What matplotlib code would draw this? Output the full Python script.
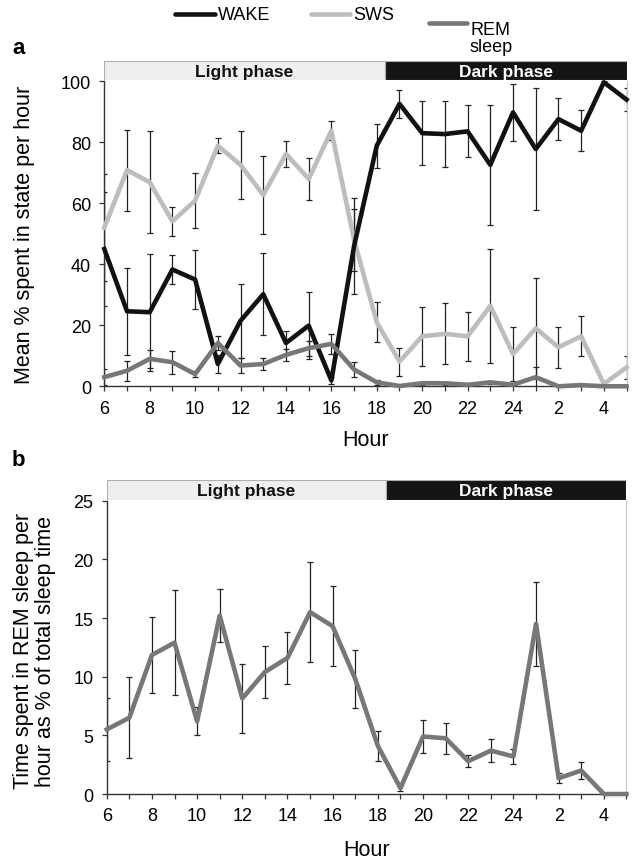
import numpy as np
import matplotlib
matplotlib.use("Agg")
import matplotlib.pyplot as plt
from matplotlib.lines import Line2D

plt.rcParams['font.family'] = ['Liberation Sans', 'DejaVu Sans']

# hours 6..29 (25 = 1 am next day, etc.)
hours = list(range(6, 30))
tick_hours = list(range(6, 30, 2))
tick_labels = ['6', '8', '10', '12', '14', '16', '18', '20', '22', '24', '2', '4']

# panel a: mean % spent in state per hour
wake = [45, 24.6, 24.3, 38.3, 35, 7.3, 21.5, 30.2, 14.2, 19.9, 1.9, 46,
        78.9, 92.6, 83, 82.7, 83.6, 72.6, 89.8, 77.8, 87.6, 83.8, 99.7, 94]
wake_err = [18.6, 14.2, 19.2, 4.7, 9.8, 3, 12.2, 13.5, 3.8, 11, 1, 15.7,
            7.2, 4.6, 10.6, 10.8, 8.5, 19.6, 9.4, 20, 7, 6.8, 0.5, 3.7]
sws = [52, 70.9, 66.9, 54.1, 60.9, 78.9, 72.6, 62.7, 76.2, 68, 83.8, 48,
       21, 8.1, 16.4, 17.2, 16.4, 26.4, 10.6, 19, 12.8, 16.4, 0.8, 6.2]
sws_err = [17.6, 13.3, 16.7, 4.8, 9, 2.5, 11.2, 12.7, 4.2, 7, 3.2, 10.2,
           6.5, 4.6, 9.7, 10, 8, 18.6, 9, 16.5, 6.7, 6.6, 0.5, 3.7]
rem = [3, 5.1, 9, 7.9, 4, 14.2, 6.8, 7.3, 10.3, 12.5, 13.9, 5.5,
       1.3, 0.1, 1, 1, 0.5, 1.3, 0.5, 3, 0, 0.4, 0, 0]
rem_err = [2.7, 3.3, 3, 3.8, 1, 2.2, 2.5, 2, 2, 2.5, 3.3, 2.5,
           0.8, 0.3, 0.5, 0.5, 0.3, 0.6, 0.3, 3.2, 0.2, 0.3, 0, 0]

# panel b: REM sleep as % of total sleep time
rem_pct = [5.5, 6.5, 11.85, 12.9, 6.2, 15.2, 8.15, 10.4, 11.6, 15.5, 14.3, 9.8,
           4.1, 0.5, 4.9, 4.75, 2.8, 3.7, 3.2, 14.5, 1.35, 2.0, 0, 0]
rem_pct_err = [2.7, 3.45, 3.2, 4.5, 1.2, 2.25, 2.95, 2.2, 2.2, 4.25, 3.4, 2.5,
               1.3, 0.2, 1.4, 1.3, 0.5, 0.95, 0.6, 3.55, 0.4, 0.7, 0, 0]

# light / dark bands
phase_names = ['Light phase', 'Dark phase']
phase_start = [6, 18.35]
phase_end = [18.35, 29]
phase_face = ['#efefef', '#141414']
phase_text = ['#111111', 'white']

c_wake = '#111111'
c_sws = '#bdbdbd'
c_rem = '#777777'
c_err = '#222222'
LW = 3.3
TICK_FS = 13
LABEL_FS = 15.5

fig = plt.figure(figsize=(6.33, 8.62), dpi=100)


def style_axes(ax, ymax, ystep):
    ax.set_xlim(6, 29)
    ax.set_ylim(0, ymax)
    ax.set_yticks(np.arange(0, ymax + 0.1, ystep))
    ax.set_xticks(hours, minor=True)
    ax.set_xticks(tick_hours)
    ax.set_xticklabels(tick_labels)
    ax.spines['top'].set_visible(False)
    ax.spines['right'].set_color('#c8c8c8')
    ax.spines['right'].set_linewidth(0.9)
    for s in ['left', 'bottom']:
        ax.spines[s].set_color('#333333')
        ax.spines[s].set_linewidth(1.0)
    ax.tick_params(axis='x', which='both', direction='out', length=3.6, width=0.9,
                   color='#333333', labelsize=TICK_FS, pad=6)
    ax.tick_params(axis='y', direction='out', length=3.6,
                   width=0.9, color='#333333', labelsize=TICK_FS, pad=6)


def phase_band(rect):
    band = fig.add_axes(rect)
    band.set_xlim(6, 29)
    band.set_ylim(0, 1)
    band.axis('off')
    for name, x0, x1, fc, tc in zip(phase_names, phase_start, phase_end, phase_face, phase_text):
        band.barh(0.5, x1 - x0, left=x0, height=1, color=fc, edgecolor='#b0b0b0', linewidth=0.8)
        band.text((x0 + x1) / 2, 0.45, name, ha='center', va='center', color=tc,
                  fontsize=12.5, fontweight='bold')


# ---- panel a ----
ax1 = fig.add_axes([0.1648, 0.5507, 0.825, 0.3538])
for y, e in [(wake, wake_err), (sws, sws_err), (rem, rem_err)]:
    ax1.errorbar(hours, y, yerr=e, fmt='none', ecolor=c_err, elinewidth=0.9,
                 capsize=2.4, capthick=0.9, zorder=2)
ax1.plot(hours, sws, color=c_sws, lw=LW, zorder=3, clip_on=False)
ax1.plot(hours, wake, color=c_wake, lw=LW, zorder=4, clip_on=False)
ax1.plot(hours, rem, color=c_rem, lw=LW, zorder=5, clip_on=False)
style_axes(ax1, 100, 20)
ax1.set_ylabel('Mean % spent in state per hour', fontsize=LABEL_FS, va='center')
ax1.yaxis.set_label_coords(-0.152, 0.5)
ax1.set_xlabel('Hour', fontsize=LABEL_FS, va='center')
ax1.xaxis.set_label_coords(0.5, -0.176)
phase_band([0.1648, 1 - 80.7 / 862, 0.825, 19 / 862])

# ---- panel b ----
ax2 = fig.add_axes([0.1686, 0.0777, 0.821, 0.3403])
ax2.errorbar(hours, rem_pct, yerr=rem_pct_err, fmt='none', ecolor=c_err, elinewidth=0.9,
             capsize=2.4, capthick=0.9, zorder=2)
ax2.plot(hours, rem_pct, color=c_rem, lw=LW, zorder=3, clip_on=False)
style_axes(ax2, 25, 5)
ax2.set_ylabel('Time spent in REM sleep per\nhour as % of total sleep time',
               fontsize=LABEL_FS, va='center', linespacing=1.05)
ax2.yaxis.set_label_coords(-0.139, 0.49)
ax2.set_xlabel('Hour', fontsize=LABEL_FS, va='center')
ax2.xaxis.set_label_coords(0.5, -0.1875)
phase_band([0.1686, 1 - 500.5 / 862, 0.821, 20 / 862])

# panel letters
fig.text(12 / 633, 1 - 48 / 862, 'a', fontsize=16, fontweight='bold', va='center')
fig.text(12 / 633, 1 - 461 / 862, 'b', fontsize=16, fontweight='bold', va='center')

# legend drawn at top
leg = [(175, 215, 15, 16, c_wake, 'WAKE'), (311, 350, 15, 16, c_sws, 'SWS'),
       (429, 467, 24, 39, c_rem, 'REM\nsleep')]
for x0, x1, yy, ty, col, lab in leg:
    fig.add_artist(Line2D([x0 / 633, x1 / 633], [1 - yy / 862, 1 - yy / 862],
                          color=col, lw=LW, solid_capstyle='round'))
    fig.text((x1 + 3) / 633, 1 - ty / 862, lab, fontsize=13, va='center',
             ha='left', linespacing=1.0)

fig.savefig('out.png', dpi=100)
